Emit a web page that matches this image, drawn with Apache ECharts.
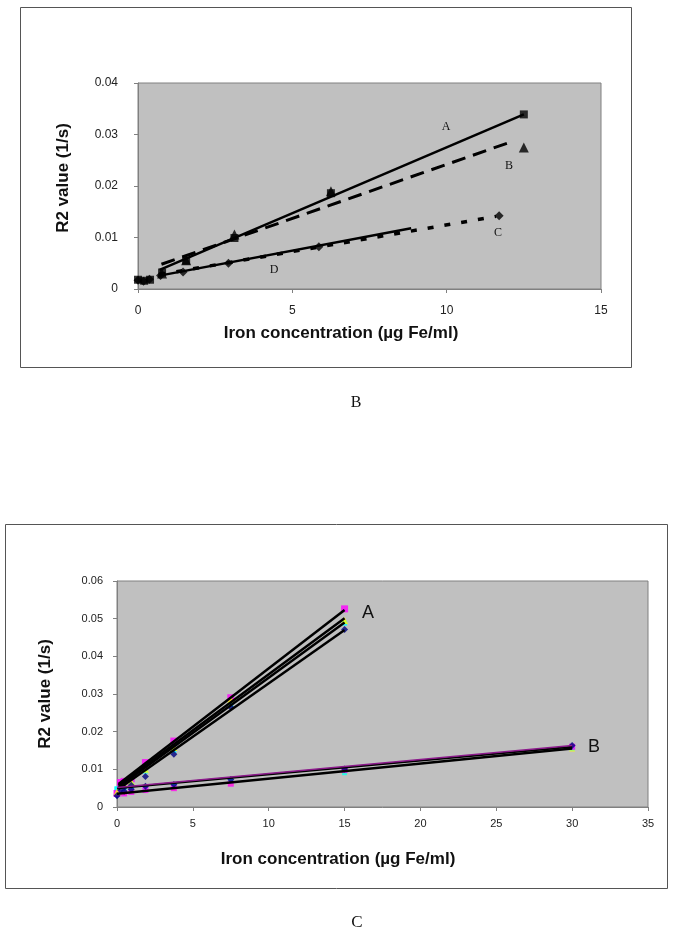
<!DOCTYPE html>
<html>
<head>
<meta charset="utf-8">
<script src="https://cdn.jsdelivr.net/npm/echarts@6/dist/echarts.min.js"></script>
<style>
html,body{margin:0;padding:0;background:#fff;}
#c{width:675px;height:938px;}
</style>
</head>
<body>
<div id="c"></div>
<script>
// ---------- Top chart (B) data ----------
const topXTicks = ['0', '5', '10', '15'];
const topYTicks = ['0', '0.01', '0.02', '0.03', '0.04'];
const topX_A = [0, 0.2, 0.39, 0.78, 1.56, 3.125, 6.25, 12.5];
const topY_A = [0.0018, 0.0016, 0.0018, 0.0032, 0.0055, 0.0099, 0.0186, 0.0339];
const topX_B = [0.78, 1.56, 3.125, 6.25, 12.5];
const topY_B = [0.0030, 0.0056, 0.0106, 0.0190, 0.0275];
const topX_C = [0, 0.18, 0.37, 0.73, 1.46, 2.93, 5.86, 11.7];
const topY_C = [0.0017, 0.0015, 0.0019, 0.0026, 0.0033, 0.0050, 0.0082, 0.0142];
const topFitA_x = [0.7, 12.5], topFitA_y = [0.0037, 0.0339];
const topFitB_x = [0.76, 12.1], topFitB_y = [0.0048, 0.0286];
const topFitC_x = [0.7, 11.6], topFitC_y = [0.0028, 0.0141];
const topFitD_x = [0.7, 8.85], topFitD_y = [0.0026, 0.0118];

// ---------- Bottom chart (C) data ----------
const botXTicks = ['0', '5', '10', '15', '20', '25', '30', '35'];
const botYTicks = ['0', '0.01', '0.02', '0.03', '0.04', '0.05', '0.06'];
const botX_A = [0, 0.23, 0.47, 0.94, 1.875, 3.75, 7.5, 15];
const botA1 = [0.0036, 0.0065, 0.0068, 0.0075, 0.0118, 0.0175, 0.0290, 0.0526];
const botA2 = [0.0040, 0.0055, 0.0062, 0.0068, 0.0100, 0.0158, 0.0286, 0.0495];
const botA3 = [0.0030, 0.0045, 0.0052, 0.0058, 0.0081, 0.0140, 0.0265, 0.0471];
const botA4 = [0.0048, 0.0052, 0.0058, 0.0065, 0.0095, 0.0150, 0.0272, 0.0488];
const botX_B = [0, 0.47, 0.94, 1.875, 3.75, 7.5, 15, 30];
const botB1 = [0.0035, 0.0036, 0.0040, 0.0045, 0.0050, 0.0062, 0.0098, 0.0160];
const botB2 = [0.0032, 0.0042, 0.0047, 0.0055, 0.0060, 0.0073, 0.0101, 0.0163];
const botB3 = [0.0048, 0.0045, 0.0050, 0.0052, 0.0057, 0.0068, 0.0091, 0.0157];
const botB4 = [0.0037, 0.0040, 0.0044, 0.0048, 0.0052, 0.0065, 0.0095, 0.0155];
const botFitX_A = [0.1, 15];
const botFitA1 = [0.0061, 0.0523];
const botFitA2 = [0.0058, 0.0501];
const botFitA3 = [0.0053, 0.0490];
const botFitA4 = [0.0048, 0.0470];
const botFitX_B = [0, 30];
const botFitB1 = [0.0052, 0.0163];
const botFitB2 = [0.0050, 0.0160];
const botFitB3 = [0.0035, 0.0155];

const xTitle = 'Iron concentration (µg Fe/ml)';
const yTitle = 'R2 value (1/s)';

const zip = (xs, ys) => xs.map((x, i) => [x, ys[i]]);

const SANS = 'Liberation Sans, Arial, sans-serif';
const SERIF = 'Liberation Serif, Times New Roman, serif';
const axisGray = '#808080';

function ax(gi, max, interval, labels, labelMargin, fontSize) {
  return {
    type: 'value', gridIndex: gi, min: 0, max: max, interval: interval,
    axisLine: { show: true, onZero: false, lineStyle: { color: axisGray, width: 1 } },
    axisTick: { show: true, inside: false, length: 4, lineStyle: { color: axisGray } },
    splitLine: { show: false },
    axisLabel: { color: '#222', fontFamily: SANS, fontSize: fontSize, margin: labelMargin,
      formatter: v => labels[Math.round(v / interval)] }
  };
}

function fitLine(xi, yi, data, color, width, type, z) {
  return { type: 'line', xAxisIndex: xi, yAxisIndex: yi, data: data, showSymbol: false,
    symbol: 'none', silent: true, animation: false, z: z || 3,
    lineStyle: { color: color, width: width, type: type || 'solid', cap: 'butt' } };
}
function pts(xi, yi, data, symbol, size, color, z) {
  return { type: 'scatter', xAxisIndex: xi, yAxisIndex: yi, data: data, symbol: symbol,
    symbolSize: size, animation: false, z: z || 4, itemStyle: { color: color } };
}
function txt(x, y, t, font, rot) {
  return { type: 'text', x: x, y: y, z: 10, rotation: rot || 0,
    style: { text: t, font: font, fill: '#111', align: 'center', verticalAlign: 'middle' } };
}

const chart = echarts.init(document.getElementById('c'), null, { renderer: 'canvas' });
chart.setOption({
  animation: false,
  backgroundColor: '#fff',
  grid: [
    { left: 138, top: 83, width: 463, height: 206, show: true, backgroundColor: '#c0c0c0',
      borderColor: axisGray, borderWidth: 1 },
    { left: 117, top: 581, width: 531, height: 226, show: true, backgroundColor: '#c0c0c0',
      borderColor: axisGray, borderWidth: 1 }
  ],
  xAxis: [ ax(0, 15, 5, topXTicks, 16, 12), ax(1, 35, 5, botXTicks, 11, 11) ],
  yAxis: [ ax(0, 0.04, 0.01, topYTicks, 20, 12), ax(1, 0.06, 0.01, botYTicks, 14, 11) ],
  graphic: [
    { type: 'rect', shape: { x: 20.5, y: 7.5, width: 611, height: 360 }, z: -10,
      style: { fill: 'none', stroke: '#555', lineWidth: 1 } },
    { type: 'rect', shape: { x: 5.5, y: 524.5, width: 662, height: 364 }, z: -10,
      style: { fill: 'none', stroke: '#555', lineWidth: 1 } },
    txt(341, 333, xTitle, 'bold 17px ' + SANS),
    txt(63, 178, yTitle, 'bold 17px ' + SANS, Math.PI / 2),
    txt(338, 859, xTitle, 'bold 17px ' + SANS),
    txt(45, 694, yTitle, 'bold 17px ' + SANS, Math.PI / 2),
    txt(356, 403, 'B', '16px ' + SERIF),
    txt(357, 923, 'C', '17px ' + SERIF),
    txt(446, 127, 'A', '12px ' + SERIF),
    txt(509, 166, 'B', '12px ' + SERIF),
    txt(498, 233, 'C', '12px ' + SERIF),
    txt(274, 270, 'D', '12px ' + SERIF),
    txt(368, 613, 'A', '18px ' + SANS),
    txt(594, 747, 'B', '18px ' + SANS)
  ],
  series: [
    // top chart
    fitLine(0, 0, zip(topFitD_x, topFitD_y), '#000', 2.5, 'solid'),
    fitLine(0, 0, zip(topFitC_x, topFitC_y), '#000', 3.5, [6, 11]),
    fitLine(0, 0, zip(topFitA_x, topFitA_y), '#000', 2.5, 'solid'),
    fitLine(0, 0, zip(topFitB_x, topFitB_y), '#000', 3, [14, 8]),
    pts(0, 0, zip(topX_C, topY_C), 'diamond', 9, '#000'),
    pts(0, 0, zip(topX_A, topY_A), 'rect', 8, '#000'),
    pts(0, 0, zip(topX_B, topY_B), 'triangle', 10, '#000'),
    // bottom chart markers
    pts(1, 1, zip(botX_B, botB4), 'triangle', 6, '#ffff00', 2),
    pts(1, 1, zip(botX_B, botB3), 'rect', 5, '#00ffff', 2),
    pts(1, 1, zip(botX_B, botB1), 'rect', 6, '#ff00ff', 2),
    pts(1, 1, zip(botX_B, botB2), 'diamond', 7, '#000080', 2),
    pts(1, 1, zip(botX_A, botA4), 'rect', 5, '#00ffff', 2),
    pts(1, 1, zip(botX_A, botA1), 'rect', 7, '#ff00ff', 2),
    pts(1, 1, zip(botX_A, botA2), 'triangle', 7, '#ffff00', 2),
    pts(1, 1, zip(botX_A, botA3), 'diamond', 7, '#000080', 2),
    // bottom chart fits
    fitLine(1, 1, zip(botFitX_A, botFitA1), '#000', 2.5),
    fitLine(1, 1, zip(botFitX_A, botFitA2), '#000', 2.5),
    fitLine(1, 1, zip(botFitX_A, botFitA3), '#000', 2.5),
    fitLine(1, 1, zip(botFitX_A, botFitA4), '#000', 2.5),
    fitLine(1, 1, zip(botFitX_B, botFitB3), '#000', 2.5),
    fitLine(1, 1, zip(botFitX_B, botFitB2), '#000', 2),
    fitLine(1, 1, zip(botFitX_B, botFitB1), '#8b1a8b', 1.5)
  ]
});
</script>
</body>
</html>
